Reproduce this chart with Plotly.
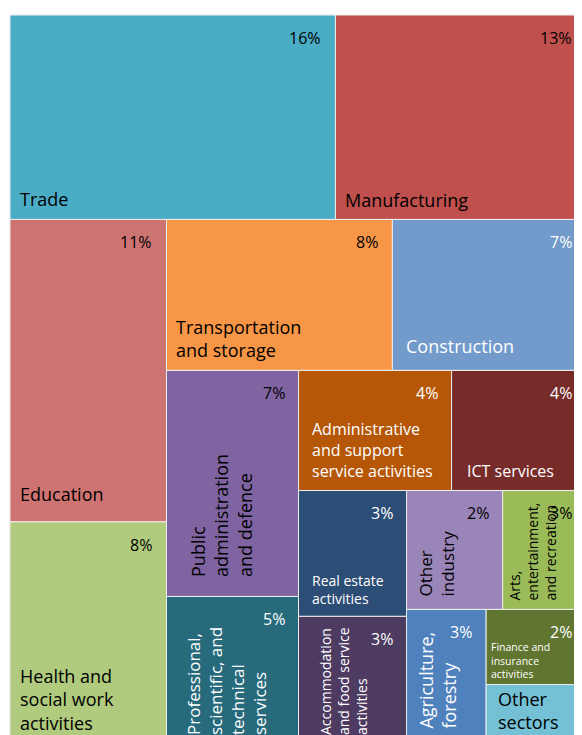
import plotly.graph_objects as go

# sectors in the order they are laid out
sectors = ["Trade", "Manufacturing", "Education", "Health", "Transportation",
           "Construction", "Public administration", "Professional services",
           "Administrative services", "ICT services", "Real estate",
           "Accommodation", "Other industry", "Arts", "Agriculture",
           "Finance", "Other sectors"]
names = ["Trade", "Manufacturing", "Education", "Health and<br>social work<br>activities",
         "Transportation<br>and storage", "Construction",
         "Public<br>administration<br>and defence",
         "Professional,<br>scientific, and<br>technical<br>services",
         "Administrative<br>and support<br>service activities", "ICT services",
         "Real estate<br>activities", "Accommodation<br>and food service<br>activities",
         "Other<br>industry", "Arts,<br>entertainment,<br>and recreation",
         "Agriculture,<br>forestry", "Finance and<br>insurance<br>activities",
         "Other<br>sectors"]
# share of employment, estimated from tile areas (%)
shares = [15.61, 12.40, 11.10, 8.19, 8.00, 7.14, 7.00, 4.60, 4.31, 4.01,
          3.19, 3.26, 2.68, 2.55, 2.53, 1.90, 1.53]
pct_labels = ["16%", "13%", "11%", "8%", "8%", "7%", "7%", "5%", "4%", "4%",
              "3%", "3%", "2%", "3%", "3%", "2%", ""]

# styling
colors = ["#4BACC6", "#C0504D", "#CD7371", "#B0CA7E", "#F79646", "#729ACA",
          "#8064A2", "#276A7C", "#B65708", "#772C2A", "#2C4D75", "#4D3B62",
          "#9A85B8", "#9BBB59", "#4F81BD", "#5F7530", "#74C1D5"]
text_colors = ["black", "black", "black", "black", "black", "white", "black",
               "white", "white", "white", "white", "white", "black", "black",
               "white", "white", "black"]
name_sizes = [18, 18, 18, 18, 18, 18, 18, 17, 16, 16, 14, 14, 17, 14, 18, 10.5, 18]
rotated = [False, False, False, False, False, False, True, True, False, False,
           False, True, True, True, True, False, False]
name_dx = [8, 8, 8, 8, 8, 12, 18, 13, 11, 13, 11, 15, 5, 0, 5, 3, 10]
name_dy = [6, 5, 14, 8, 6, 10, 18, 8, 6, 6, 6, 8, 11, 7, 14, 2, 9]

# strips of the treemap, alternating rows and columns
strips = [[0, 1], [2, 3], [4, 5], [6, 7], [8, 9], [10, 11], [12, 13], [14], [15, 16]]

ids, parents, labels, values, tile_colors = [], [], [], [], []
parent = ""
for k, strip in enumerate(strips):
    g = "g%d" % k
    ids.append(g); parents.append(parent); labels.append(""); values.append(0); tile_colors.append("white")
    for i in strip:
        ids.append(sectors[i]); parents.append(g); labels.append(sectors[i])
        values.append(shares[i]); tile_colors.append(colors[i])
    if k < len(strips) - 2:
        r = "r%d" % k
        ids.append(r); parents.append(parent); labels.append(""); values.append(0); tile_colors.append("white")
        parent = r

W, H = 584, 730
view_w = 564  # part of the plot width that shows in the window

fig = go.Figure(go.Treemap(
    ids=ids, parents=parents, labels=labels, values=values,
    branchvalues="remainder", sort=False, textinfo="none",
    marker=dict(colors=tile_colors, line=dict(color="#EEEEEE", width=1),
                pad=dict(t=0, l=0, r=0, b=0), depthfade=False),
    tiling=dict(packing="dice-slice", pad=0),
    pathbar=dict(visible=False),
))

# work out tile rectangles (fractions of the plot area) to place the labels
children = {}
for i, p in zip(ids, parents):
    children.setdefault(p, []).append(i)
size = {}
def total(n):
    if n in children:
        size[n] = sum(total(c) for c in children[n])
    else:
        size[n] = shares[sectors.index(n)]
    return size[n]
total("")
rects = {}
def place(n, x0, y0, x1, y1, depth):
    kids = children.get(n, [])
    pos = y0 if depth % 2 == 0 else x0
    for c in kids:
        f = size[c] / size[n]
        if depth % 2 == 0:
            h = (y1 - y0) * f
            rects[c] = (x0, pos, x1, pos + h); place(c, x0, pos, x1, pos + h, depth + 1)
            pos += h
        else:
            w = (x1 - x0) * f
            rects[c] = (pos, y0, pos + w, y1); place(c, pos, y0, pos + w, y1, depth + 1)
            pos += w
place("", 0, 0, 1, 1, 0)

font = "Open Sans"
for i, s in enumerate(sectors):
    x0, y0, x1, y1 = rects[s]
    fc = text_colors[i]
    fig.add_annotation(x=x0, y=1 - y1, xref="paper", yref="paper", text=names[i],
                       textangle=-90 if rotated[i] else 0,
                       xanchor="left", yanchor="bottom", align="left",
                       xshift=name_dx[i], yshift=name_dy[i], showarrow=False,
                       font=dict(family=font, size=name_sizes[i], color=fc))
    if pct_labels[i]:
        xr = x1
        shift = -12
        if x1 * W > view_w:
            xr, shift = view_w / W, 0
        fig.add_annotation(x=xr, y=1 - y0, xref="paper", yref="paper", text=pct_labels[i],
                           xanchor="right", yanchor="top", xshift=shift, yshift=-10,
                           showarrow=False, font=dict(family=font, size=16, color=fc))

fig.update_layout(width=W + 2, height=H + 7, margin=dict(l=2, r=0, t=7, b=0),
                  paper_bgcolor="white", showlegend=False)
fig.write_html("out.html")
